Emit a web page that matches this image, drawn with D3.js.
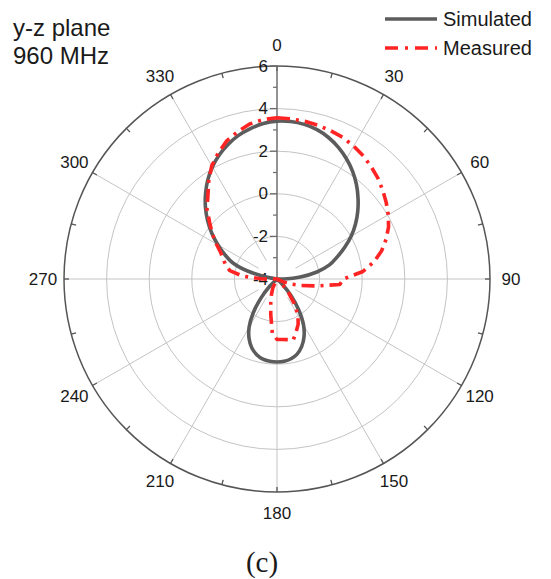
<!DOCTYPE html>
<html>
<head>
<meta charset="utf-8">
<script src="https://cdn.jsdelivr.net/npm/d3@7"></script>
<style>
  html, body { margin: 0; padding: 0; background: #fff; }
  svg { display: block; }
  text { font-family: "Liberation Sans", Arial, sans-serif; fill: #1a1a1a; }
</style>
</head>
<body>
<svg id="chart" width="551" height="579"></svg>
<script>
// Azimuth angles (degrees, clockwise from 0 at the top)
const angles = [0,5,10,15,20,25,30,35,40,45,50,55,60,65,70,75,80,85,
  90,95,100,105,110,115,120,125,130,135,140,145,150,155,160,165,170,175,
  180,185,190,195,200,205,210,215,220,225,230,235,240,245,250,255,260,265,
  270,275,280,285,290,295,300,305,310,315,320,325,330,335,340,345,350,355];

// Gain in dB (values below -4 sit at the centre of the plot)
const simulated = [3.41,3.42,3.37,3.26,3.07,2.82,2.52,2.18,1.80,1.38,0.95,0.50,
  0.02,-0.50,-1.00,-1.45,-2.10,-2.90,-3.65,-5,-5,-5,-5,-5,
  -5,-5,-5,-3.62,-2.97,-2.22,-1.51,-1.00,-0.62,-0.35,-0.20,-0.12,
  -0.10,-0.12,-0.18,-0.32,-0.55,-0.90,-1.38,-2.05,-2.80,-3.50,-5,-5,
  -5,-5,-5,-5,-5,-5,-5,-5,-3.55,-2.60,-1.80,-1.30,
  -0.80,-0.27,0.25,0.75,1.22,1.67,2.07,2.42,2.72,2.98,3.17,3.33];

const measured = [3.57,3.55,3.52,3.47,3.40,3.33,3.20,3.06,2.88,2.70,2.48,2.26,
  2.03,1.78,1.45,1.08,0.62,0.05,-0.88,-1.04,-2.11,-2.83,-3.30,-3.70,
  -5,-5,-5,-3.62,-3.15,-2.59,-2.03,-1.65,-1.37,-1.04,-1.11,-1.15,
  -1.16,-1.46,-2.31,-2.87,-3.25,-3.53,-5,-5,-5,-5,-5,-5,
  -5,-5,-5,-5,-5,-5,-3.30,-2.36,-1.75,-1.51,-1.32,-1.09,
  -0.71,-0.29,0.13,0.65,1.05,1.59,2.13,2.53,2.90,3.16,3.39,3.51];

const radialTicks = [-4, -2, 0, 2, 4, 6];
const radialMinor = [-3, -1, 1, 3, 5];
const angleTicks = [0, 30, 60, 90, 120, 150, 180, 210, 240, 270, 300, 330];
const angleMinor = [15, 45, 75, 105, 135, 165, 195, 225, 255, 285, 315, 345];

const svg = d3.select("#chart");
const cx = 277, cy = 279, R = 213;
const g = svg.append("g").attr("transform", `translate(${cx},${cy})`);

const r = d3.scaleLinear().domain([-4, 6]).range([0, R]).clamp(true);
const rad = d => d * Math.PI / 180;
const px = (a, rr) => rr * Math.sin(rad(a));
const py = (a, rr) => -rr * Math.cos(rad(a));

// grid rings
g.selectAll("circle.ring").data(radialTicks.filter(v => v > -4 && v < 6))
  .join("circle").attr("class", "ring")
  .attr("r", d => r(d)).attr("fill", "none")
  .attr("stroke", "#c4c4c4").attr("stroke-width", 1);

// spokes every 30 degrees
g.selectAll("line.spoke").data(angleTicks).join("line").attr("class", "spoke")
  .attr("x1", d => (d % 90 === 0) ? 0 : px(d, r(-3)))
  .attr("y1", d => (d % 90 === 0) ? 0 : py(d, r(-3)))
  .attr("x2", d => px(d, R)).attr("y2", d => py(d, R))
  .attr("stroke", "#c4c4c4").attr("stroke-width", 1);

// outer ring
g.append("circle").attr("r", R).attr("fill", "none")
  .attr("stroke", "#555").attr("stroke-width", 1.5);

// ticks on the outer ring
g.selectAll("line.atick").data(angleTicks.concat(angleMinor)).join("line").attr("class", "atick")
  .attr("x1", d => px(d, R)).attr("y1", d => py(d, R))
  .attr("x2", d => px(d, R - 5)).attr("y2", d => py(d, R - 5))
  .attr("stroke", "#555").attr("stroke-width", 1.3);

// angular labels
g.selectAll("text.alab").data(angleTicks).join("text").attr("class", "alab")
  .attr("x", d => px(d, R + 21)).attr("y", d => py(d, R + 21))
  .attr("text-anchor", "middle").attr("dominant-baseline", "central")
  .attr("font-size", 17).text(d => d);

// radial axis along 0 degrees
g.append("line").attr("x1", 0).attr("y1", 0).attr("x2", 0).attr("y2", -R)
  .attr("stroke", "#6a6a6a").attr("stroke-width", 1.3);
g.selectAll("line.rtick").data(radialTicks).join("line").attr("class", "rtick")
  .attr("x1", -7).attr("x2", 0).attr("y1", d => -r(d)).attr("y2", d => -r(d))
  .attr("stroke", "#6a6a6a").attr("stroke-width", 1.3);
g.selectAll("line.rminor").data(radialMinor).join("line").attr("class", "rminor")
  .attr("x1", -4).attr("x2", 0).attr("y1", d => -r(d)).attr("y2", d => -r(d))
  .attr("stroke", "#6a6a6a").attr("stroke-width", 1.2);
g.selectAll("text.rlab").data(radialTicks).join("text").attr("class", "rlab")
  .attr("x", -9).attr("y", d => -r(d))
  .attr("text-anchor", "end").attr("dominant-baseline", "central")
  .attr("font-size", 17).text(d => d);

// pattern traces
const toPts = vals => angles.map((a, i) => [rad(a), r(vals[i])]);
const simLine = d3.lineRadial().curve(d3.curveCatmullRomClosed.alpha(0.5));
const measLine = d3.lineRadial().curve(d3.curveLinearClosed);

g.append("path").attr("d", simLine(toPts(simulated)))
  .attr("fill", "none").attr("stroke", "#5c5c5c").attr("stroke-width", 3.6)
  .attr("stroke-linejoin", "round");
g.append("path").attr("d", measLine(toPts(measured)))
  .attr("fill", "none").attr("stroke", "#ff2424").attr("stroke-width", 3.6)
  .attr("stroke-dasharray", "13,6,3,6").attr("stroke-linejoin", "round");

// titles
svg.append("text").attr("x", 13).attr("y", 36).attr("font-size", 24).text("y-z plane");
svg.append("text").attr("x", 13).attr("y", 64).attr("font-size", 24).text("960 MHz");

// legend
const lg = svg.append("g");
lg.append("line").attr("x1", 385).attr("x2", 437).attr("y1", 19).attr("y2", 19)
  .attr("stroke", "#5c5c5c").attr("stroke-width", 3.6);
lg.append("text").attr("x", 443).attr("y", 26).attr("font-size", 20).text("Simulated");
lg.append("line").attr("x1", 385).attr("x2", 437).attr("y1", 48).attr("y2", 48)
  .attr("stroke", "#ff2424").attr("stroke-width", 3.6).attr("stroke-dasharray", "13,7,3,7");
lg.append("text").attr("x", 443).attr("y", 55).attr("font-size", 20).text("Measured");

// panel caption
svg.append("text").attr("x", 262).attr("y", 572).attr("text-anchor", "middle")
  .style("font-family", "'Liberation Serif', 'Times New Roman', serif")
  .attr("font-size", 29).text("(c)");
</script>
</body>
</html>
